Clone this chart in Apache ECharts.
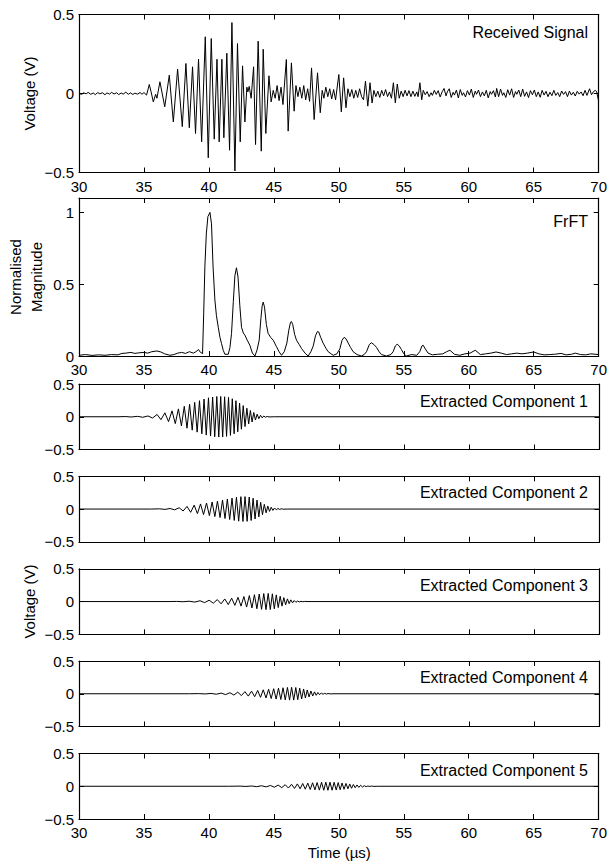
<!DOCTYPE html>
<html><head><meta charset="utf-8">
<script src="https://cdn.jsdelivr.net/npm/echarts@6/dist/echarts.min.js"></script>
<style>html,body{margin:0;padding:0;background:#fff}#c{width:610px;height:865px}</style>
</head><body><div id="c"></div><script>
// ---------- data ----------
const timeTicks = [30, 35, 40, 45, 50, 55, 60, 65, 70];
const voltTicks = [-0.5, 0, 0.5];
const magTicks = [0, 0.5, 1];
const panelTitles = ['Received Signal', 'FrFT', 'Extracted Component 1', 'Extracted Component 2',
  'Extracted Component 3', 'Extracted Component 4', 'Extracted Component 5'];
const voltageLabel = 'Voltage (V)';
const magnitudeLabel = ['Normalised', 'Magnitude'];
const timeLabel = 'Time (\u00b5s)';

const receivedSignal = [
[30,0.002],[30.2,-0.006],[30.35,0.004],[30.55,-0.002],[30.7,0.007],[30.9,-0.005],[31.1,0.003],[31.25,-0.007],
[31.45,0.006],[31.6,-0.002],[31.8,0.005],[32.0,-0.008],[32.15,0.004],[32.35,-0.004],[32.5,0.007],[32.7,-0.003],
[32.9,0.005],[33.05,-0.007],[33.25,0.003],[33.4,-0.004],[33.6,0.008],[33.8,-0.005],[33.95,0.004],[34.15,-0.006],
[34.3,0.002],[34.5,-0.004],[34.7,0.006],[34.85,-0.005],[35,0.006],[35.2,-0.01],[35.41,0.057],[35.55,0.01],
[35.72,-0.053],[35.9,-0.005],[36.0,-0.03],[36.23,0.074],[36.6,-0.084],[36.95,0.116],[37.26,-0.18],[37.59,0.154],
[37.95,-0.21],[38.23,0.19],[38.49,-0.217],[38.74,0.169],[38.97,-0.253],[39.2,0.217],[39.44,-0.306],[39.72,0.359],
[39.95,-0.407],[40.18,0.348],[40.41,-0.289],[40.62,0.217],[40.79,-0.306],[41.0,0.217],[41.15,-0.28],[41.38,0.255],
[41.59,-0.359],[41.77,0.449],[42.0,-0.49],[42.2,0.316],[42.41,-0.306],[42.59,0.175],[42.77,-0.18],[42.92,0.04],
[43.0,0.01],[43.1,0.045],[43.25,-0.03],[43.44,0.169],[43.59,-0.323],[43.79,0.331],[44.03,-0.365],[44.18,0.28],
[44.38,-0.253],[44.62,0.112],[44.79,-0.053],[44.95,0.02],[45.1,-0.03],[45.25,0.05],[45.4,-0.045],[45.55,0.04],
[45.7,-0.07],[45.96,0.215],[46.1,-0.238],[46.35,0.194],[46.56,-0.112],[46.7,0.05],[46.85,-0.02],[47.0,0.04],
[47.15,-0.03],[47.3,0.05],[47.45,-0.04],[47.6,0.03],[47.75,-0.05],[47.9,0.162],[48.1,-0.165],[48.36,0.131],
[48.57,-0.122],[48.72,0.02],[48.85,-0.03],[49.0,0.04],[49.15,-0.02],[49.3,0.03],[49.45,-0.035],[49.6,0.025],
[49.75,-0.04],[50.0,0.12],[50.19,-0.116],[50.37,0.099],[50.55,-0.09],[50.7,0.03],[50.85,-0.02],[51.0,0.025],
[51.15,-0.03],[51.3,0.02],[51.45,-0.025],[51.6,0.03],[51.75,-0.02],[51.9,-0.04],[52.05,0.078],[52.23,-0.08],
[52.4,0.068],[52.56,-0.06],[52.7,0.02],[52.85,-0.02],[53.0,0.015],[53.15,-0.025],[53.3,0.02],[53.45,-0.015],
[53.6,0.025],[53.75,-0.02],[53.9,0.01],[54.05,-0.03],[54.2,0.068],[54.35,-0.06],[54.5,0.06],[54.65,-0.03],
[54.8,0.015],[54.95,-0.02],[55.1,0.02],[55.25,-0.015],[55.4,0.018],[55.55,-0.02],[55.7,0.015],[55.85,-0.018],
[56.0,0.01],[56.1,-0.02],[56.24,0.068],[56.38,-0.04],[56.5,0.02],[56.65,-0.008],[56.8,0.012],[56.95,-0.02],
[57.1,0.005],[57.2,-0.012],[57.35,0.02],[57.5,-0.006],[57.65,0.018],[57.8,-0.022],[57.95,0.01],[58.1,0.032],
[58.25,-0.015],[58.35,0.01],[58.5,0.03],[58.65,-0.025],[58.8,0.008],[58.9,-0.01],[59.05,0.022],[59.2,-0.028],
[59.35,0.025],[59.5,-0.012],[59.6,0.005],[59.75,-0.022],[59.9,0.018],[60.05,-0.01],[60.2,0.028],[60.35,-0.025],
[60.5,0.015],[60.6,-0.005],[60.75,0.022],[60.9,-0.02],[61.05,0.01],[61.2,-0.015],[61.35,0.02],[61.5,-0.028],
[61.65,0.012],[61.75,-0.005],[61.9,0.018],[62.05,-0.022],[62.15,0.032],[62.3,-0.02],[62.45,0.028],[62.6,-0.012],
[62.7,0.005],[62.85,-0.025],[63.0,0.024],[63.15,-0.01],[63.3,0.03],[63.45,-0.025],[63.6,0.012],[63.7,-0.005],
[63.85,0.022],[64.0,-0.02],[64.15,0.028],[64.3,-0.018],[64.45,0.01],[64.6,-0.026],[64.75,0.018],[64.9,-0.008],
[65.05,0.022],[65.2,-0.02],[65.35,0.01],[65.5,-0.024],[65.65,0.02],[65.8,-0.01],[65.95,0.014],[66.1,-0.02],
[66.25,0.008],[66.4,-0.014],[66.55,0.02],[66.7,-0.012],[66.85,0.006],[67.0,-0.02],[67.15,0.016],[67.3,-0.006],
[67.45,0.012],[67.6,-0.02],[67.75,0.015],[67.9,-0.01],[68.05,0.008],[68.2,-0.016],[68.35,0.014],[68.5,-0.004],
[68.65,0.01],[68.8,-0.014],[68.95,0.02],[69.1,-0.012],[69.3,0.03],[69.45,-0.008],[69.6,0.012],[69.75,0.02],
[69.85,0.01],[70,-0.05]
];

const frftMagnitude = [
[30,0.005],[30.5,0.01],[31,0.004],[31.5,0.008],[32,0.005],[32.5,0.01],[33,0.008],[33.3,0.018],[33.6,0.02],
[34,0.025],[34.3,0.018],[34.6,0.022],[35,0.025],[35.3,0.02],[35.6,0.03],[36,0.035],[36.3,0.028],[36.6,0.015],
[37,0.005],[37.3,0.01],[37.6,0.02],[37.9,0.025],[38.2,0.018],[38.5,0.03],[38.8,0.02],[39.0,0.03],[39.2,0.045],
[39.35,0.025],[39.51,0.017],[39.6,0.3],[39.69,0.625],[39.8,0.85],[39.92,0.97],[40.08,1.0],[40.2,0.92],[40.32,0.62],
[40.46,0.39],[40.58,0.28],[40.72,0.2],[40.85,0.13],[40.97,0.087],[41.1,0.04],[41.23,0.012],[41.49,0.012],
[41.62,0.06],[41.74,0.157],[41.88,0.38],[42.0,0.56],[42.12,0.614],[42.24,0.55],[42.38,0.35],[42.51,0.2],
[42.65,0.16],[42.77,0.145],[42.95,0.11],[43.15,0.075],[43.35,0.02],[43.54,0],[43.7,0.04],[43.87,0.11],
[44.0,0.26],[44.1,0.35],[44.18,0.375],[44.28,0.34],[44.42,0.22],[44.56,0.157],[44.75,0.13],[44.95,0.11],
[45.2,0.065],[45.4,0.03],[45.59,0.005],[45.8,0.03],[46.0,0.09],[46.15,0.18],[46.28,0.235],[46.35,0.24],
[46.45,0.22],[46.6,0.15],[46.74,0.11],[46.95,0.08],[47.13,0.052],[47.4,0.02],[47.64,0],[47.85,0.03],
[48.03,0.07],[48.2,0.14],[48.35,0.17],[48.45,0.168],[48.6,0.13],[48.79,0.09],[49.0,0.055],[49.18,0.03],
[49.56,0.005],[49.85,0.015],[50.08,0.05],[50.25,0.11],[50.41,0.13],[50.55,0.12],[50.72,0.09],[50.9,0.06],
[51.1,0.03],[51.4,0.01],[51.74,0],[51.95,0.01],[52.13,0.03],[52.35,0.08],[52.51,0.092],[52.7,0.08],
[52.9,0.06],[53.1,0.03],[53.28,0.01],[53.67,0],[54.0,0.01],[54.18,0.03],[54.35,0.07],[54.49,0.082],
[54.65,0.07],[54.82,0.045],[55.0,0.015],[55.2,0],[55.6,0.01],[56.0,0.005],[56.23,0.03],[56.4,0.07],
[56.49,0.075],[56.65,0.05],[56.87,0.02],[57.2,0.008],[57.6,0.012],[58.0,0.015],[58.3,0.03],[58.55,0.04],
[58.9,0.012],[59.3,0.005],[59.7,0.015],[60.1,0.02],[60.5,0.04],[60.9,0.01],[61.3,0.015],[61.7,0.02],
[62.1,0.028],[62.5,0.02],[62.9,0.01],[63.3,0.015],[63.7,0.02],[64.1,0.015],[64.5,0.02],[65.0,0.028],
[65.4,0.015],[65.8,0.008],[66.2,0.01],[66.6,0.012],[67.1,0.018],[67.5,0.008],[67.9,0.012],[68.2,0.02],
[68.6,0.01],[69.0,0.008],[69.4,0.015],[70,0.01]
];

const component1 = [
[30,0],[33.0,0],[33.6,0.003],[34.0,-0.004],[34.5,0.006],[34.9,-0.008],[35.3,0.012],[35.65,-0.02],[36.0,0.035],
[36.3,-0.045],[36.6,0.06],[36.88,-0.075],[37.15,0.09],[37.4,-0.105],[37.64,0.12],[37.87,-0.14],[38.09,0.16],
[38.3,-0.175],[38.5,0.19],[38.7,-0.205],[38.89,0.22],[39.08,-0.235],[39.26,0.245],[39.44,-0.26],[39.61,0.27],
[39.78,-0.28],[39.95,0.29],[40.11,-0.295],[40.27,0.3],[40.43,-0.305],[40.59,0.31],[40.74,-0.31],[40.89,0.31],
[41.04,-0.31],[41.19,0.305],[41.34,-0.3],[41.49,0.295],[41.64,-0.285],[41.78,0.275],[41.92,-0.26],[42.06,0.245],
[42.2,-0.23],[42.34,0.21],[42.48,-0.19],[42.62,0.17],[42.76,-0.15],[42.9,0.13],[43.04,-0.11],[43.17,0.095],
[43.3,-0.08],[43.43,0.065],[43.56,-0.05],[43.69,0.04],[43.82,-0.03],[43.95,0.022],[44.08,-0.016],[44.2,0.012],
[44.33,-0.008],[44.46,0.005],[44.6,-0.003],[45.0,0],[70,0]
];
const component2 = [
[30,0],[35.5,0],[36.2,0.003],[36.6,-0.005],[37.0,0.008],[37.35,-0.012],[37.7,0.02],[38.0,-0.03],[38.3,0.04],
[38.58,-0.05],[38.85,0.06],[39.1,-0.07],[39.34,0.078],[39.57,-0.085],[39.8,0.092],[40.02,-0.1],[40.23,0.108],
[40.44,-0.115],[40.64,0.122],[40.84,-0.13],[41.03,0.138],[41.22,-0.145],[41.4,0.152],[41.58,-0.16],[41.76,0.167],
[41.93,-0.174],[42.1,0.18],[42.27,-0.185],[42.44,0.189],[42.6,-0.19],[42.76,0.19],[42.92,-0.188],[43.08,0.183],
[43.23,-0.175],[43.38,0.165],[43.53,-0.152],[43.68,0.137],[43.82,-0.12],[43.96,0.103],[44.1,-0.087],[44.24,0.072],
[44.38,-0.058],[44.51,0.046],[44.64,-0.036],[44.77,0.028],[44.9,-0.021],[45.03,0.016],[45.16,-0.012],[45.29,0.009],
[45.42,-0.006],[45.55,0.004],[45.7,-0.002],[46.0,0],[70,0]
];
const component3 = [
[30,0],[37.0,0],[37.5,0.002],[38.0,-0.003],[38.45,0.005],[38.9,-0.008],[39.3,0.012],[39.65,-0.016],[40.0,0.02],
[40.32,-0.025],[40.63,0.03],[40.92,-0.035],[41.2,0.04],[41.47,-0.046],[41.73,0.052],[41.98,-0.058],[42.22,0.064],
[42.45,-0.07],[42.67,0.077],[42.88,-0.084],[43.09,0.091],[43.29,-0.098],[43.48,0.105],[43.67,-0.11],[43.85,0.115],
[44.03,-0.119],[44.2,0.122],[44.37,-0.124],[44.54,0.124],[44.7,-0.122],[44.86,0.118],[45.01,-0.111],[45.16,0.102],
[45.31,-0.092],[45.46,0.081],[45.6,-0.07],[45.74,0.06],[45.88,-0.05],[46.02,0.041],[46.15,-0.033],[46.28,0.026],
[46.41,-0.02],[46.54,0.015],[46.67,-0.011],[46.8,0.008],[46.93,-0.006],[47.06,0.004],[47.2,-0.003],[47.35,0.002],
[47.6,0],[70,0]
];
const component4 = [
[30,0],[38.5,0],[39.2,0.002],[39.7,-0.003],[40.15,0.005],[40.55,-0.007],[40.92,0.01],[41.27,-0.013],[41.6,0.016],
[41.9,-0.02],[42.2,0.024],[42.48,-0.028],[42.75,0.032],[43.01,-0.036],[43.26,0.04],[43.5,-0.045],[43.73,0.05],
[43.95,-0.055],[44.16,0.06],[44.37,-0.064],[44.57,0.069],[44.77,-0.073],[44.96,0.077],[45.15,-0.081],[45.33,0.085],
[45.51,-0.088],[45.68,0.091],[45.85,-0.094],[46.02,0.096],[46.18,-0.097],[46.34,0.098],[46.5,-0.097],[46.66,0.095],
[46.81,-0.091],[46.96,0.086],[47.11,-0.08],[47.26,0.073],[47.4,-0.065],[47.54,0.057],[47.68,-0.049],[47.82,0.042],
[47.96,-0.035],[48.1,0.029],[48.23,-0.024],[48.36,0.019],[48.49,-0.015],[48.62,0.012],[48.75,-0.009],[48.88,0.007],
[49.01,-0.005],[49.14,0.004],[49.3,-0.002],[49.6,0],[70,0]
];
const component5 = [
[30,0],[41.5,0],[42.4,0.002],[42.85,-0.003],[43.28,0.004],[43.68,-0.006],[44.05,0.008],[44.4,-0.01],[44.73,0.012],
[45.04,-0.015],[45.33,0.018],[45.61,-0.021],[45.87,0.024],[46.12,-0.027],[46.36,0.03],[46.59,-0.033],[46.81,0.036],
[47.02,-0.039],[47.22,0.042],[47.42,-0.045],[47.61,0.048],[47.8,-0.05],[47.98,0.053],[48.16,-0.055],[48.33,0.057],
[48.5,-0.059],[48.67,0.06],[48.84,-0.061],[49.0,0.062],[49.16,-0.062],[49.32,0.062],[49.48,-0.061],[49.64,0.06],
[49.8,-0.058],[49.95,0.056],[50.1,-0.053],[50.25,0.05],[50.4,-0.047],[50.55,0.043],[50.7,-0.039],[50.84,0.035],
[50.98,-0.031],[51.12,0.027],[51.26,-0.023],[51.4,0.02],[51.54,-0.017],[51.68,0.014],[51.82,-0.011],[51.96,0.009],
[52.1,-0.007],[52.24,0.005],[52.38,-0.004],[52.52,0.003],[52.7,-0.002],[53.0,0],[70,0]
];

// ---------- layout ----------
const FONT = "'Liberation Sans', Arial, Helvetica, sans-serif";
const FS = 15;
const TFS = 16;
const LEFT = 79, WIDTH = 520.5;
const panels = [
  {top: 14.5, height: 158, ticks: voltTicks, data: receivedSignal, showX: true, titleY: 32},
  {top: 198,  height: 158, ticks: magTicks, ymax: 1.1, data: frftMagnitude, showX: true, titleY: 221.5},
  {top: 384,  height: 65.5, ticks: voltTicks, data: component1, showX: false, titleY: 401.3},
  {top: 476.3, height: 65.5, ticks: voltTicks, data: component2, showX: false, titleY: 492.8},
  {top: 568.8, height: 65.5, ticks: voltTicks, data: component3, showX: false, titleY: 585.6},
  {top: 661, height: 65.5, ticks: voltTicks, data: component4, showX: false, titleY: 677.8},
  {top: 753.5, height: 65.5, ticks: voltTicks, data: component5, showX: true, titleY: 770.3}
];

const fmt = v => {
  if (Math.abs(v * 2 - Math.round(v * 2)) > 1e-6) return '';
  const s = String(Math.round(Math.abs(v) * 10) / 10);
  return v < -1e-9 ? '\u2212' + s : s;
};

const axLine = {show: true, onZero: false, lineStyle: {color: '#000', width: 1.2}};
const axTick = {show: true, inside: true, length: 5, lineStyle: {color: '#000', width: 1}};

const grid = [], xAxis = [], yAxis = [], series = [], graphic = [];
const tStep = timeTicks[1] - timeTicks[0];
panels.forEach((p, i) => {
  grid.push({left: LEFT, top: p.top, width: WIDTH, height: p.height, containLabel: false});
  const ymin = p.ticks[0];
  const ymax = p.ymax !== undefined ? p.ymax : p.ticks[p.ticks.length - 1];
  const yStep = p.ticks[1] - p.ticks[0];
  const xBase = {type: 'value', gridIndex: i, min: timeTicks[0], max: timeTicks[timeTicks.length - 1], interval: tStep,
    axisLine: axLine, axisTick: axTick, splitLine: {show: false}};
  xAxis.push(Object.assign({}, xBase, {position: 'bottom',
    axisLabel: {show: p.showX, margin: 6, color: '#000', fontSize: FS, fontFamily: FONT}}));
  xAxis.push(Object.assign({}, xBase, {position: 'top', axisLabel: {show: false}}));
  const yBase = {type: 'value', gridIndex: i, min: ymin, max: ymax, interval: yStep,
    axisLine: axLine, axisTick: axTick, splitLine: {show: false}};
  yAxis.push(Object.assign({}, yBase, {position: 'left',
    axisLabel: {show: true, margin: 5, color: '#000', fontSize: FS, fontFamily: FONT, formatter: fmt}}));
  yAxis.push(Object.assign({}, yBase, {position: 'right', axisLabel: {show: false}}));
  series.push({type: 'line', xAxisIndex: 2 * i, yAxisIndex: 2 * i, data: p.data, showSymbol: false, symbol: 'none',
    lineStyle: {color: '#000', width: 1}, animation: false, silent: true, clip: true});
  graphic.push({type: 'text', x: 588, y: p.titleY,
    style: {text: panelTitles[i], fill: '#000', font: TFS + 'px ' + FONT, align: 'right', verticalAlign: 'middle'}});
});

const rotText = (txt, x, y) => ({type: 'text', x: x, y: y, rotation: Math.PI / 2,
  style: {text: txt, fill: '#000', font: FS + 'px ' + FONT, align: 'center', verticalAlign: 'middle'}});
graphic.push(rotText(voltageLabel, 29, 93.5));
graphic.push(rotText(magnitudeLabel[0], 15, 277));
graphic.push(rotText(magnitudeLabel[1], 36, 277));
graphic.push(rotText(voltageLabel, 29, 601.5));
graphic.push({type: 'text', x: LEFT + WIDTH / 2, y: 852.5,
  style: {text: timeLabel, fill: '#000', font: FS + 'px ' + FONT, align: 'center', verticalAlign: 'middle'}});

const chart = echarts.init(document.getElementById('c'), null, {renderer: 'svg', width: 610, height: 865});
chart.setOption({backgroundColor: '#fff', animation: false, grid, xAxis, yAxis, series, graphic});
</script></body></html>
